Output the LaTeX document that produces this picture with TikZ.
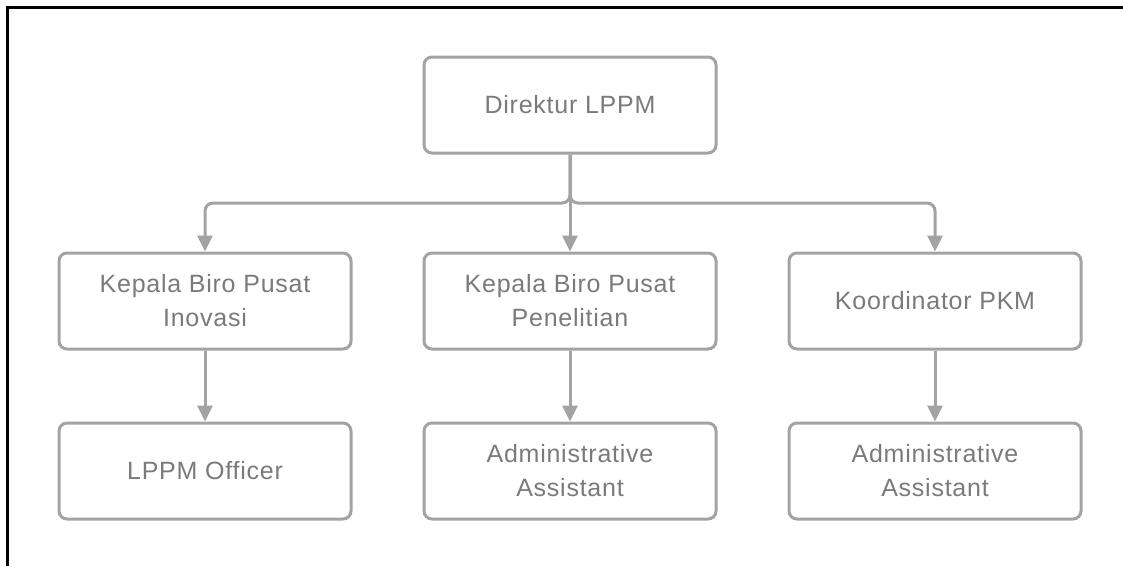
\documentclass[tikz,border=0pt]{standalone}
\usepackage{fontspec}
\setmainfont{Liberation Sans}[LetterSpace=3]
\usetikzlibrary{arrows.meta}
\definecolor{boxgray}{HTML}{A3A3A3}
\definecolor{txtgray}{HTML}{7A7A7A}
\tikzset{
  orgbox/.style={draw=boxgray, line width=3pt, rounded corners=8pt, minimum width=292pt, minimum height=96pt, align=center, text=txtgray, font=\fontsize{25}{34}\selectfont, inner sep=0pt},
  conn/.style={draw=boxgray, line width=3pt, -{Triangle[width=15pt,length=16pt]}},
  frame/.style={draw=black, line width=3pt}
}
\begin{document}
\begin{tikzpicture}[x=1pt,y=-1pt]
\useasboundingbox (0,0) rectangle (1123,566);
\coordinate (ftl) at (7.5,7.5);
\coordinate (ftr) at (1123,7.5);
\coordinate (fbl) at (7.5,566);
\draw[frame] (ftr) -- (ftl) -- (fbl);

\node[orgbox] (dir) at (570,105) {Direktur LPPM};
\node[orgbox] (k1) at (205,301) {Kepala Biro Pusat\\Inovasi};
\node[orgbox] (k2) at (570,301) {Kepala Biro Pusat\\Penelitian};
\node[orgbox] (k3) at (935,301) {Koordinator PKM};
\node[orgbox] (s1) at (205,471) {LPPM Officer};
\node[orgbox] (s2) at (570,471) {Administrative\\Assistant};
\node[orgbox] (s3) at (935,471) {Administrative\\Assistant};

\coordinate (j) at (570,203);
\draw[conn, rounded corners=8pt] (dir.south) -- (j) -| (k1.north);
\draw[conn, rounded corners=8pt] (dir.south) -- (j) -| (k3.north);
\draw[conn] (dir.south) -- (k2.north);
\draw[conn] (k1.south) -- (s1.north);
\draw[conn] (k2.south) -- (s2.north);
\draw[conn] (k3.south) -- (s3.north);
\end{tikzpicture}
\end{document}
